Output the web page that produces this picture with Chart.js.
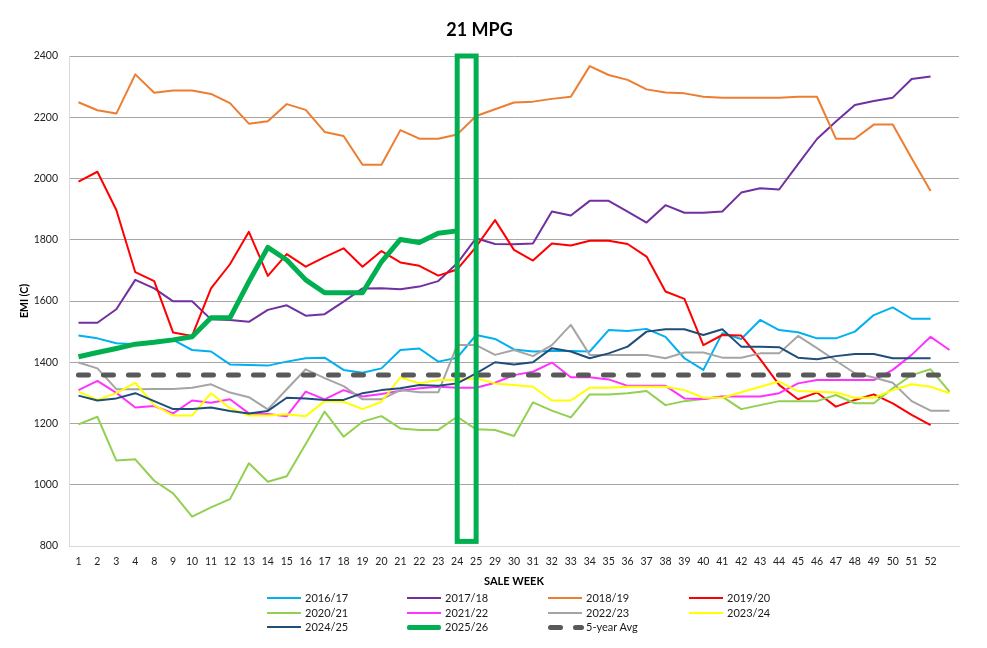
<!DOCTYPE html>
<html><head><meta charset="utf-8">
<script src="https://cdn.jsdelivr.net/npm/chart.js@4.4.1/dist/chart.umd.min.js"></script>
<style>
html,body{margin:0;padding:0;background:#fff;}
#wrap{position:relative;width:987px;height:648px;overflow:hidden;}
#legend{position:absolute;left:0;top:0;width:987px;height:648px;pointer-events:none;font-family:Lato,"Open Sans",sans-serif;font-size:11px;color:#1a1a1a;}
.item{position:absolute;height:14px;line-height:14px;white-space:nowrap;}
.sw{position:absolute;left:0;}
.txt{position:absolute;left:38px;top:0;}
</style></head><body>
<div id="wrap"><canvas id="c" width="987" height="648"></canvas><div id="legend"></div></div>
<script>
const weeks = ['1','2','3','4','8','9','10','11','12','13','14','15','16','17','18','19','20','21','22','23','24','25','29','30','31','32','33','34','35','36','37','38','39','40','41','42','43','44','45','46','47','48','49','50','51','52',''];

const s1617 = [1487,1478,1462,1459,1469,1473,1440,1435,1393,1391,1389,1402,1413,1415,1375,1366,1380,1440,1445,1402,1415,1489,1476,1442,1435,1437,1437,1435,1505,1502,1509,1483,1413,1375,1495,1476,1538,1505,1498,1478,1478,1500,1554,1579,1542,1542,null];
const s1718 = [1529,1529,1573,1669,1641,1599,1599,1540,1538,1532,1571,1586,1552,1557,1598,1641,1642,1638,1647,1665,1723,1805,1786,1785,1788,1892,1879,1927,1927,1892,1856,1913,1888,1888,1892,1954,1968,1964,2047,2129,2186,2240,2253,2264,2325,2333,null];
const s1819 = [2249,2223,2212,2340,2280,2287,2287,2276,2246,2179,2187,2243,2224,2152,2139,2045,2045,2158,2130,2130,2144,2204,2226,2248,2251,2260,2267,2367,2338,2322,2291,2281,2278,2267,2264,2264,2264,2264,2267,2267,2130,2130,2176,2176,2066,1959,null];
const s1920 = [1990,2022,1897,1694,1665,1497,1486,1641,1720,1826,1682,1753,1712,1743,1772,1712,1763,1726,1715,1683,1703,1777,1864,1767,1732,1788,1781,1797,1797,1786,1745,1631,1607,1456,1489,1487,1410,1326,1279,1301,1255,1277,1295,1266,1228,1195,null];
const s2021 = [1197,1222,1079,1083,1013,972,896,926,953,1070,1010,1028,1133,1239,1157,1206,1224,1184,1179,1179,1222,1181,1179,1159,1269,1242,1220,1295,1295,1299,1306,1260,1273,1280,1288,1247,1260,1273,1273,1273,1293,1266,1266,1315,1358,1377,1304];
const s2122 = [1309,1339,1300,1252,1257,1233,1275,1268,1279,1233,1231,1224,1304,1279,1309,1288,1296,1307,1315,1320,1317,1317,1333,1358,1369,1399,1351,1351,1344,1323,1323,1323,1282,1280,1288,1288,1288,1299,1331,1342,1342,1342,1342,1375,1424,1483,1440];
const s2223 = [1399,1380,1312,1312,1313,1313,1317,1328,1301,1286,1246,1312,1377,1348,1322,1279,1279,1309,1302,1302,1456,1456,1424,1440,1420,1456,1522,1424,1424,1424,1424,1413,1432,1432,1415,1415,1429,1429,1486,1446,1405,1364,1350,1333,1273,1242,1242];
const s2324 = [1304,1277,1299,1333,1260,1226,1226,1299,1250,1226,1226,1230,1224,1273,1271,1247,1271,1351,1331,1342,1342,1348,1331,1326,1320,1275,1275,1317,1317,1320,1320,1320,1309,1284,1284,1302,1320,1337,1306,1304,1301,1284,1284,1309,1328,1320,1299];
const s2425 = [1291,1275,1282,1299,1273,1247,1247,1252,1241,1233,1241,1284,1282,1277,1277,1299,1309,1315,1326,1323,1331,1364,1400,1393,1400,1446,1435,1413,1429,1451,1500,1508,1508,1489,1508,1451,1451,1449,1415,1410,1420,1427,1427,1413,1413,1413,null];
const s2526 = [1418,1432,1445,1459,1465,1473,1483,1545,1545,1663,1775,1734,1669,1627,1627,1627,1728,1801,1791,1821,1829,null,null,null,null,null,null,null,null,null,null,null,null,null,null,null,null,null,null,null,null,null,null,null,null,null,null];
const avg5 = [1358,1358,1358,1358,1358,1358,1358,1358,1358,1358,1358,1358,1358,1358,1358,1358,1358,1358,1358,1358,1358,1358,1358,1358,1358,1358,1358,1358,1358,1358,1358,1358,1358,1358,1358,1358,1358,1358,1358,1358,1358,1358,1358,1358,1358,1358,1358];

const seriesLabels = ['2016/17','2017/18','2018/19','2019/20','2020/21','2021/22','2022/23','2023/24','2024/25','2025/26','5-year Avg'];
const seriesColors = ['#00b0f0','#7030a0','#ed7d31','#ff0000','#92d050','#ff33ff','#a5a5a5','#ffff00','#1f4e79','#00b050','#595959'];
const series = [s1617,s1718,s1819,s1920,s2021,s2122,s2223,s2324,s2425,s2526,avg5];

const yMin = 800, yMax = 2400, yStep = 200;
const highlightWeeks = ['24','25'];
const highlightRange = [815, 2400];

const FONT = 'Lato, "Open Sans", sans-serif';

const datasets = seriesLabels.map((lab, i) => {
  const isAvg = lab === '5-year Avg';
  const isCur = lab === '2025/26';
  return {
    label: lab,
    data: series[i],
    borderColor: seriesColors[i],
    backgroundColor: seriesColors[i],
    borderWidth: isAvg ? 5 : (isCur ? 5 : 2),
    borderDash: isAvg ? [10, 15] : [],
    borderCapStyle: isAvg ? 'round' : 'butt',
    borderJoinStyle: 'round',
    pointRadius: 0,
    pointHoverRadius: 0,
    tension: 0,
    fill: false,
    spanGaps: false,
    order: -i
  };
});

const highlightPlugin = {
  id: 'highlight',
  afterDatasetsDraw(chart) {
    const {ctx, scales: {x, y}} = chart;
    const x1 = x.getPixelForValue(weeks.indexOf(highlightWeeks[0]));
    const x2 = x.getPixelForValue(weeks.indexOf(highlightWeeks[1]));
    const y1 = y.getPixelForValue(highlightRange[1]);
    const y2 = y.getPixelForValue(highlightRange[0]);
    ctx.save();
    ctx.strokeStyle = '#00b050';
    ctx.lineWidth = 5;
    ctx.lineJoin = 'miter';
    ctx.strokeRect(x1, y1, x2 - x1, y2 - y1);
    ctx.restore();
  }
};

const chart = new Chart(document.getElementById('c'), {
  type: 'line',
  data: {labels: weeks, datasets},
  plugins: [highlightPlugin],
  options: {
    responsive: false,
    animation: false,
    devicePixelRatio: 1,
    layout: {padding: {left: 0, right: 28, top: 0, bottom: 57}},
    plugins: {
      legend: {display: false},
      tooltip: {enabled: false},
      title: {
        display: true,
        text: '21 MPG',
        color: '#000',
        font: {family: FONT, size: 18, weight: 'bold'},
        padding: {top: 19, bottom: 15.4}
      }
    },
    scales: {
      x: {
        offset: true,
        grid: {display: false, drawTicks: false},
        border: {display: true, color: '#d9d9d9', width: 1},
        ticks: {color: '#222', font: {family: FONT, size: 10.5}, padding: 9, maxRotation: 0, autoSkip: false},
        title: {display: true, text: 'SALE WEEK', color: '#000', font: {family: FONT, size: 11, weight: 'bold'}, padding: {top: 0, bottom: 3}},
        afterFit(scale) { scale.height = 45; }
      },
      y: {
        min: yMin, max: yMax,
        grid: {
          drawTicks: false,
          color: (c) => (c.tick && c.tick.value === yMin) ? 'rgba(0,0,0,0)' : '#a6a6a6',
          lineWidth: 1
        },
        border: {display: true, color: '#d9d9d9', width: 1},
        ticks: {stepSize: yStep, color: '#222', font: {family: FONT, size: 10.5}, padding: 11, callback: (v) => String(v)},
        title: {display: true, text: 'EMI (C)', color: '#000', font: {family: FONT, size: 10.5, weight: 'bold'}, padding: {top: 18, bottom: 0}},
        afterFit(scale) { scale.width = 69; }
      }
    }
  }
});

// HTML legend in a 4-column grid below the chart
const legendEl = document.getElementById('legend');
const colX = [267, 407, 548, 689];
const rowY = [598, 612.5, 627];
chart.data.datasets.forEach((ds, i) => {
  const col = i % 4, row = Math.floor(i / 4);
  const item = document.createElement('div');
  item.className = 'item';
  item.style.left = colX[col] + 'px';
  item.style.top = (rowY[row] - 7) + 'px';
  const sw = document.createElement('div');
  sw.className = 'sw';
  if (ds.label === '5-year Avg') {
    [[0, 15], [25, 11]].forEach(([l, w]) => {
      const d = document.createElement('div');
      d.style.cssText = `position:absolute;left:${l}px;top:4.5px;width:${w}px;height:5px;border-radius:2.5px;background:${ds.borderColor};`;
      sw.appendChild(d);
    });
  } else {
    const h = ds.borderWidth;
    sw.style.cssText = `left:0;top:${7 - h / 2}px;width:34px;height:${h}px;background:${ds.borderColor};${h > 2 ? 'border-radius:2px;' : ''}`;
  }
  item.appendChild(sw);
  const t = document.createElement('span');
  t.className = 'txt';
  t.textContent = ds.label;
  item.appendChild(t);
  legendEl.appendChild(item);
});
</script>
</body></html>
